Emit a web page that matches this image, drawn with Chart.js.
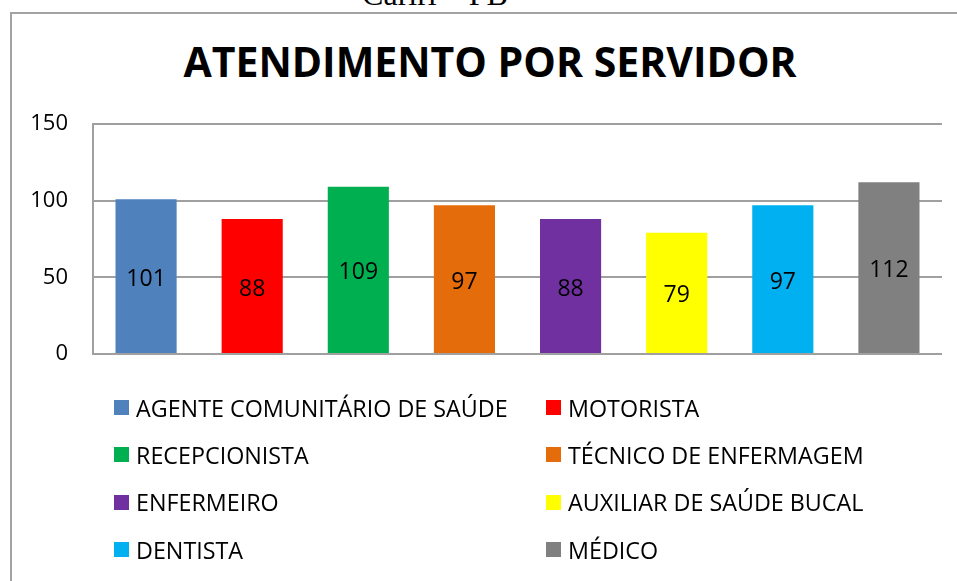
<!DOCTYPE html>
<html lang="pt">
<head>
  <meta charset="UTF-8" />
  <title>Atendimento por servidor</title>
  <script src="https://cdn.jsdelivr.net/npm/chart.js"></script>
  <style>
    body {
      margin: 0;
      background: #fff;
      width: 957px;
      height: 581px;
      overflow: hidden;
      position: relative;
      font-family: 'Open Sans', sans-serif;
    }

    .cabecalho {
      position: absolute;
      left: 0;
      width: 870px;
      top: -22px;
      text-align: center;
      font-family: 'Liberation Serif', 'Times New Roman', serif;
      font-size: 32px;
      line-height: 32px;
      color: #000;
    }

    .moldura {
      position: absolute;
      left: 10px;
      top: 12px;
      width: 1000px;
      height: 700px;
      border: 2px solid #a3a3a3;
    }

    h1 {
      position: absolute;
      left: 0;
      width: 980px;
      top: 41px;
      margin: 0;
      text-align: center;
      font-size: 41px;
      line-height: 41px;
      font-weight: bold;
      color: #000;
    }

    #grafico {
      position: absolute;
      left: 0;
      top: 0;
    }

    .legend {
      position: absolute;
      left: 114px;
      top: 384px;
      display: grid;
      grid-template-columns: 432px 360px;
    }

    .legend-item {
      display: flex;
      align-items: center;
      height: 47.3px;
      font-size: 23.3px;
      color: #000;
      white-space: nowrap;
    }

    .legend-color {
      width: 15px;
      height: 15px;
      margin-right: 7px;
      display: inline-block;
    }
  </style>
</head>
<body>
  <div class="cabecalho">Cariri – PB</div>
  <div class="moldura"></div>
  <h1>ATENDIMENTO POR SERVIDOR</h1>
  <canvas id="grafico" width="957" height="581"></canvas>
  <div class="legend" id="legenda"></div>

  <script>
    // dados
    const servidores = ['AGENTE COMUNITÁRIO DE SAÚDE', 'MOTORISTA', 'RECEPCIONISTA', 'TÉCNICO DE ENFERMAGEM',
      'ENFERMEIRO', 'AUXILIAR DE SAÚDE BUCAL', 'DENTISTA', 'MÉDICO'];
    const atendimentos = [101, 88, 109, 97, 88, 79, 97, 112];
    const cores = ['#4f81bd', '#ff0000', '#00b050', '#e46c0a', '#7030a0', '#ffff00', '#00b0f0', '#808080'];
    const ticksY = [0, 50, 100, 150];

    // rótulos de valor no meio de cada barra
    const rotulosBarras = {
      id: 'rotulosBarras',
      afterDatasetsDraw(chart) {
        const ctx = chart.ctx;
        const meta = chart.getDatasetMeta(0);
        ctx.save();
        ctx.font = '23px "Open Sans"';
        ctx.fillStyle = '#000';
        ctx.textAlign = 'center';
        ctx.textBaseline = 'middle';
        meta.data.forEach((bar, i) => {
          ctx.fillText(atendimentos[i], bar.x, (bar.y + bar.base) / 2 + 3);
        });
        ctx.restore();
      }
    };

    const ctx = document.getElementById('grafico').getContext('2d');

    new Chart(ctx, {
      type: 'bar',
      data: {
        labels: servidores,
        datasets: [{
          data: atendimentos,
          backgroundColor: cores,
          borderWidth: 0,
          categoryPercentage: 1,
          barPercentage: 0.576
        }]
      },
      options: {
        responsive: false,
        animation: false,
        layout: {
          padding: { top: 124, right: 15, bottom: 227, left: 0 }
        },
        scales: {
          x: {
            display: false
          },
          y: {
            min: ticksY[0],
            max: ticksY[ticksY.length - 1],
            afterBuildTicks: (scale) => {
              scale.ticks = ticksY.map(v => ({ value: v }));
            },
            afterFit: (scale) => {
              scale.width = 93;
            },
            ticks: {
              color: '#000',
              padding: 25,
              font: { family: 'Open Sans', size: 22 }
            },
            grid: {
              color: '#a0a0a0',
              lineWidth: 2,
              drawTicks: false
            },
            border: {
              display: true,
              color: '#a0a0a0',
              width: 2
            }
          }
        },
        plugins: {
          legend: { display: false },
          tooltip: { enabled: false }
        }
      },
      plugins: [rotulosBarras]
    });

    // legenda em duas colunas
    const legenda = document.getElementById('legenda');
    servidores.forEach((nome, i) => {
      const item = document.createElement('div');
      item.className = 'legend-item';

      const quadrado = document.createElement('span');
      quadrado.className = 'legend-color';
      quadrado.style.backgroundColor = cores[i];

      item.appendChild(quadrado);
      item.appendChild(document.createTextNode(nome));
      legenda.appendChild(item);
    });
  </script>
</body>
</html>
